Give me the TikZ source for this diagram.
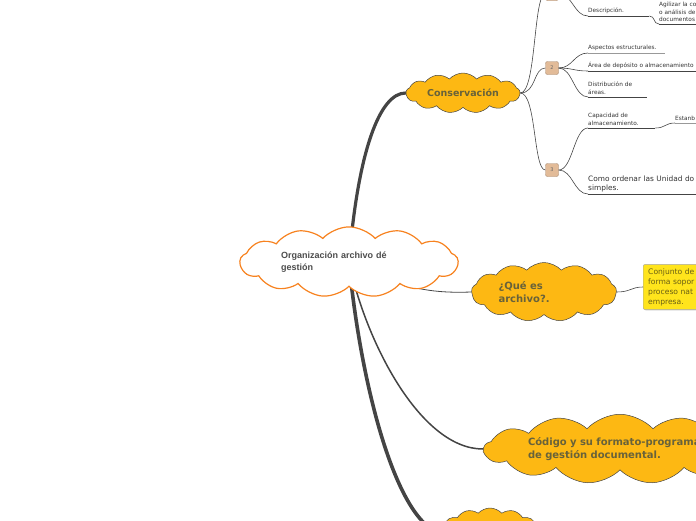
\documentclass[tikz,border=0pt]{standalone}
\usepackage{fontspec}
\setmainfont{DejaVu Sans}
\newfontfamily\arialfont{Liberation Sans}
\usepackage{tikz}
\usetikzlibrary{shapes.symbols,backgrounds,shadows,positioning}
\definecolor{cloudorange}{RGB}{253,184,19}
\definecolor{rootorange}{RGB}{247,130,31}
\definecolor{cloudtext}{RGB}{104,98,58}
\definecolor{linkgray}{RGB}{68,68,68}
\definecolor{badgetan}{RGB}{226,187,152}
\definecolor{badgeedge}{RGB}{165,135,110}
\definecolor{noteyellow}{RGB}{255,228,28}
\definecolor{notetext}{RGB}{105,95,20}

\begin{document}
\begin{tikzpicture}[x=1pt, y=-1pt,
    puffy/.style={cloud, cloud puffs=13, cloud puff arc=95},
    topic/.style={puffy, draw=linkgray, line width=0.5pt, fill=cloudorange, text=cloudtext, font=\bfseries\fontsize{10}{13}\selectfont, align=left, inner sep=0pt},
    badge/.style={draw=badgeedge, fill=badgetan, rounded corners=2pt, minimum size=13pt, inner sep=0pt, text=black!60, font=\fontsize{5}{6}\selectfont},
    leaf/.style={anchor=south west, inner xsep=0pt, inner ysep=2pt, align=left, text=black!80, font=\fontsize{5.8}{8.5}\selectfont},
    underline/.style={draw=linkgray, line width=0.7pt},
    paleline/.style={draw=black!40, line width=0.7pt},
    branch/.style={draw=linkgray, line width=0.6pt},
    trunk/.style={draw=linkgray, line cap=round},
    note/.style={draw=black!35, fill=noteyellow, rounded corners=2pt, text=notetext, font=\fontsize{7.6}{10}\selectfont, align=left, text width=80pt, inner xsep=5pt, inner ysep=4pt, anchor=west, drop shadow={opacity=0.25, shadow xshift=1pt, shadow yshift=-1pt}}]
    \useasboundingbox (0,0) rectangle (696,520);
    \clip (0,0) rectangle (696,520);

    % central topic and main clouds
    \node[puffy, aspect=4, draw=rootorange, line width=1.2pt, fill=white, minimum width=218pt, minimum height=69pt, text width=136pt, align=left, text=black!70, font=\arialfont\bfseries\fontsize{9}{12}\selectfont] (root) at (349,262) {Organización archivo dé\\gestión};
    \node[topic, aspect=3.4, minimum width=114pt, minimum height=40pt, font=\bfseries\fontsize{9.5}{11}\selectfont] (cons) at (463,93) {Conservación};
    \node[topic, aspect=2.9, minimum width=145pt, minimum height=59pt, text width=91pt] (que) at (544,292) {¿Qué es\\archivo?.};
    \node[topic, aspect=6, minimum width=272pt, minimum height=62pt, text width=184pt] (codigo) at (620,449) {Código y su formato-programa\\de gestión documental.};
    \node[topic, aspect=2, minimum width=100pt, minimum height=50pt] (otro) at (490,533) {};

    % note
    \node[note] (conj) at (643,287) {Conjunto de\\forma sopor\\proceso nat\\empresa.};

    % numbered groups
    \node[badge] (b1) at (552,-6) {1};
    \node[badge] (b2) at (552,68) {2};
    \node[badge] (b3) at (552,170) {3};

    % leaves
    \node[leaf, text width=61pt] (desc) at (588,16) {Descripción.};
    \node[leaf, text width=60pt, font=\fontsize{5.8}{7.4}\selectfont] (agil) at (659,24) {Agilizar la co\\o análisis de\\documentos};
    \node[leaf, text width=77pt] (asp) at (588,53) {Aspectos estructurales.};
    \node[leaf, text width=115pt] (area) at (588,71) {Área de depósito o almacenamiento};
    \node[leaf, text width=59pt] (dist) at (588,97) {Distribución de\\áreas.};
    \node[leaf, text width=67pt] (cap) at (588,128) {Capacidad de\\almacenamiento.};
    \node[leaf, text width=30pt] (estan) at (675,123) {Estanb};
    \node[leaf, text width=120pt, font=\fontsize{7.4}{9}\selectfont] (como) at (588,194) {Como ordenar las Unidad do\\simples.};

    \draw[underline] (desc.south west) -- (desc.south east);
    \draw[underline] (agil.south west) -- (agil.south east);
    \draw[paleline] (asp.south west) -- (asp.south east);
    \draw[underline] (area.south west) -- (area.south east);
    \draw[underline] (dist.south west) -- (dist.south east);
    \draw[underline] (cap.south west) -- (cap.south east);
    \draw[paleline] (estan.south west) -- (estan.south east);
    \draw[underline] (como.south west) -- (como.south east);

    % branches
    \draw[branch] (b1.east) .. controls +(14,0) and +(-14,0) .. (desc.south west);
    \draw[branch] (desc.south east) .. controls +(6,0) and +(-6,0) .. (agil.south west);
    \draw[branch] (b2.east) .. controls +(14,0) and +(-14,0) .. (asp.south west);
    \draw[branch] (b2.east) .. controls +(14,0) and +(-14,0) .. (area.south west);
    \draw[branch] (b2.east) .. controls +(14,0) and +(-14,0) .. (dist.south west);
    \draw[branch] (b3.east) .. controls +(14,0) and +(-14,0) .. (cap.south west);
    \draw[branch] (b3.east) .. controls +(14,0) and +(-14,0) .. (como.south west);
    \draw[branch] (cap.south east) .. controls +(10,0) and +(-10,0) .. (estan.south west);
    \draw[branch] (cons.east) .. controls +(16,0) and +(-12,0) .. (b1.west);
    \draw[branch] (cons.east) .. controls +(16,0) and +(-12,0) .. (b2.west);
    \draw[branch] (cons.east) .. controls +(16,0) and +(-12,0) .. (b3.west);
    \draw[branch] (que.east) .. controls +(14,0) and +(-12,0) .. (conj.west);

    \begin{scope}[on background layer]
        \draw[trunk, line width=3.2pt] (root.center) .. controls (358,150) and (380,93) .. (cons.west);
        \draw[trunk, line width=3.6pt] (root.center) .. controls (360,380) and (395,520) .. (otro.west);
        \draw[trunk, line width=1.5pt] (root.center) .. controls (365,340) and (420,449) .. (codigo.west);
        \draw[branch, line width=0.8pt] (root.center) .. controls (405,292) and (440,293) .. (que.west);
    \end{scope}
\end{tikzpicture}
\end{document}
